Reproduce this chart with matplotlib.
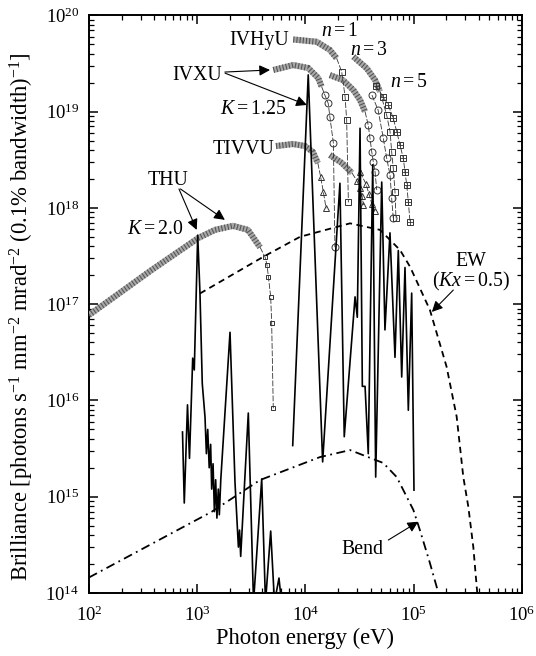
import numpy as np
import matplotlib
matplotlib.use('Agg')
import matplotlib.pyplot as plt
from matplotlib.ticker import LogLocator, NullFormatter

plt.rcParams['font.family'] = ['Liberation Serif', 'DejaVu Serif']
plt.rcParams['mathtext.fontset'] = 'custom'
plt.rcParams['mathtext.rm'] = 'Liberation Serif'
plt.rcParams['mathtext.it'] = 'Liberation Serif:italic'
plt.rcParams['mathtext.bf'] = 'Liberation Serif:bold'

# ---------------- data (photon energy eV, brilliance) ----------------
# measured-like spectrum, low-energy part (THU region)
spec_a_e = [731, 759, 813, 848, 908, 939, 1010, 1060, 1113, 1180, 1215, 1250, 1290, 1330,
            1360, 1400, 1440, 1480, 1520, 1565, 1600, 1650, 2008, 2233, 2400, 2460, 2520,
            2963, 3311, 3940, 4270, 4770, 5170, 5690, 6000]
spec_a_b = [4.7e15, 8.6e14, 9.0e15, 2.5e15, 2.75e16, 2.07e16, 5.2e17, 1.3e17, 1.5e16, 6.7e15,
            2.8e15, 5.0e15, 2.0e15, 3.5e15, 1.2e15, 2.2e15, 7.0e14, 1.5e15, 6.0e14, 1.2e15,
            6.5e14, 1.5e15, 5.1e16, 1.4e15, 3.0e14, 4.5e14, 2.4e14, 7.4e15, 8.0e13, 1.53e15,
            8.0e13, 4.4e14, 8.0e13, 1.43e14, 8.0e13]
# high-energy part
spec_b_e = [7620, 10600, 14400, 20800, 22800, 28700, 30100, 31900, 33500, 35500, 38000,
            41800, 44500, 50600, 54200, 60300, 67100, 72000, 77400, 83000, 89100, 95700, 100500]
spec_b_b = [3.4e15, 2.4e19, 2.3e15, 1.8e18, 4.2e15, 1.19e17, 7.3e16, 6.7e18, 1.4e16, 1.4e16,
            2.8e15, 2.8e18, 1.6e15, 1.85e18, 5.4e16, 5.5e17, 2.8e16, 3.6e17, 1.75e16, 2.4e17,
            7.9e15, 1.3e17, 1.17e15]

# THU tuning curve
thu_e = [100, 379, 1023, 1459, 2140, 2943, 3800]
thu_b = [7.7e16, 2.26e17, 4.86e17, 5.9e17, 6.5e17, 5.9e17, 3.9e17]
thu_tail_e = [3800, 4225, 4410, 4550, 4770, 4870, 5040]
thu_tail_b = [3.9e17, 3.1e17, 2.55e17, 1.9e17, 1.19e17, 6.4e16, 8.3e15]

# IVXU
ivxu1_e = [5050, 7710, 10600, 13100, 14100]
ivxu1_b = [2.7e19, 3.04e19, 2.83e19, 2.23e19, 1.81e19]
ivxu1_tail_e = [14100, 15100, 16200, 16800, 18100, 18700]
ivxu1_tail_b = [1.81e19, 1.48e19, 1.22e19, 8.8e18, 4.7e18, 3.9e17]
ivxu3_e = [16800, 22200, 27700, 31900, 35500]
ivxu3_b = [2.39e19, 2.12e19, 1.67e19, 1.32e19, 9.95e18]
ivxu3_tail_e = [35500, 38000, 39400, 40900, 42300, 43900, 45500]
ivxu3_tail_b = [9.95e18, 7.2e18, 5.3e18, 3.83e18, 3.0e18, 2.37e18, 1.53e18]
ivxu5_tail_e = [41100, 46800, 52300, 56200, 60400, 62500, 64700]
ivxu5_tail_b = [1.48e19, 1.04e19, 5.3e18, 3.29e18, 2.19e18, 1.26e18, 7.8e17]

# IVHyU
ivhyu1_e = [7710, 12700, 16800, 19400]
ivhyu1_b = [5.6e19, 5.3e19, 4.35e19, 3.57e19]
ivhyu1_tail_e = [19400, 21600, 23200, 24000, 24900]
ivhyu1_tail_b = [3.57e19, 2.59e19, 1.43e19, 8.2e18, 1.14e18]
ivhyu3_e = [27700, 36800, 43900, 48800]
ivhyu3_b = [3.71e19, 2.81e19, 2.12e19, 1.61e19]
ivhyu3_tail_e = [48800, 56200, 60400, 62500, 64700, 67100, 68500]
ivhyu3_tail_b = [1.61e19, 9.2e18, 6.2e18, 3.83e18, 2.57e18, 1.47e18, 7.8e17]
ivhyu5_tail_e = [44800, 52000, 58200, 64700, 69600, 74600, 80000, 83000, 86100, 89100, 92300]
ivhyu5_tail_b = [1.84e19, 1.43e19, 1.17e19, 8.5e18, 6.2e18, 4.49e18, 3.29e18, 2.37e18,
                 1.73e18, 1.16e18, 7.2e17]

# TIVVU
tivvu1_e = [5340, 7670, 9900, 11700, 13000]
tivvu1_b = [4.38e18, 4.6e18, 4.38e18, 3.8e18, 2.92e18]
tivvu1_tail_e = [13000, 13800, 14600, 15500]
tivvu1_tail_b = [2.92e18, 2.1e18, 1.47e18, 9.9e17]
tivvu3_e = [16800, 21700, 26900]
tivvu3_b = [3.53e18, 2.92e18, 2.3e18]
tivvu3_tail_e = [26900, 29900, 31900, 33300, 34300]
tivvu3_tail_b = [2.3e18, 1.9e18, 1.61e18, 1.33e18, 1.07e18]
tivvu5_tail_e = [31900, 36200, 38600, 41100, 43900]
tivvu5_tail_b = [2.35e18, 1.77e18, 1.39e18, 1.09e18, 9.3e17]

# EW (Kx = 0.5)
ew_e = [1060, 4075, 8900, 25800, 48800, 74600, 92300, 141000, 201000, 249000, 287000,
        319000, 355000, 386000]
ew_b = [1.29e17, 3.1e17, 5.0e17, 6.9e17, 5.9e17, 3.65e17, 2.45e17, 8.7e16, 2.24e16,
        6.8e15, 1.6e15, 7.9e14, 3.0e14, 1.0e14]

# Bending magnet
bend_e = [100, 1360, 3800, 13600, 25800, 52300, 69600, 99100, 114000, 141000, 169000]
bend_b = [1.45e14, 6.98e14, 1.49e15, 2.58e15, 3.05e15, 2.24e15, 1.6e15, 7.3e14, 4.5e14,
          2.05e14, 1.0e14]

# ---------------- figure ----------------
fig = plt.figure(figsize=(5.36, 6.56), dpi=100)
ax = fig.add_axes([0.1660, 0.0960, 0.8079, 0.8808])
ax.set_xscale('log')
ax.set_yscale('log')
ax.set_xlim(1e2, 1e6)
ax.set_ylim(1e14, 1e20)

# solid spectrum
ax.plot(spec_a_e, spec_a_b, color='k', lw=1.2, zorder=5)
ax.plot(spec_b_e, spec_b_b, color='k', lw=1.2, zorder=5)

# EW and bend
ax.plot(ew_e, ew_b, color='k', lw=1.3, ls=(0, (3.5, 2.5)), zorder=4)
ax.plot(bend_e, bend_b, color='k', lw=1.3, ls=(0, (5, 2.5, 1, 2.5)), zorder=4)


def dense(x, y):
    ax.plot(x, y, color='#a8a8a8', lw=4.4, solid_capstyle='butt', zorder=3)
    ax.plot(x, y, color='#555555', lw=4.4, dashes=(0.18, 0.34),
            dash_capstyle='butt', zorder=3.1)


def tail(x, y, marker, ms=4.5):
    ax.plot(x, y, color='#333333', lw=0.6, ls=(0, (7, 2)), zorder=3.2)
    ax.plot(x[1:], y[1:], ls='none', marker=marker, ms=ms, mfc='none',
            mec='#333333', mew=0.7, zorder=3.3)


dense(thu_e, thu_b)
tail(thu_tail_e, thu_tail_b, 's', 3.5)
dense(ivxu1_e, ivxu1_b)
tail(ivxu1_tail_e, ivxu1_tail_b, 'o', 5)
dense(ivxu3_e, ivxu3_b)
tail(ivxu3_tail_e, ivxu3_tail_b, 'o', 5)
ax.plot(ivxu5_tail_e, ivxu5_tail_b, color='#333333', lw=0.6, ls=(0, (7, 2)),
        marker='o', ms=5, mfc='none', mec='#333333', mew=0.7, zorder=3.3)
dense(ivhyu1_e, ivhyu1_b)
tail(ivhyu1_tail_e, ivhyu1_tail_b, 's', 4)
dense(ivhyu3_e, ivhyu3_b)
tail(ivhyu3_tail_e, ivhyu3_tail_b, 's', 4)
ax.plot(ivhyu5_tail_e, ivhyu5_tail_b, color='#333333', lw=0.6, ls=(0, (7, 2)),
        marker='s', ms=4, mfc='none', mec='#333333', mew=0.7, zorder=3.3)
ax.plot(ivhyu5_tail_e, ivhyu5_tail_b, ls='none', marker='+', ms=5,
        mec='#333333', mew=0.6, zorder=3.3)
dense(tivvu1_e, tivvu1_b)
tail(tivvu1_tail_e, tivvu1_tail_b, '^', 5)
dense(tivvu3_e, tivvu3_b)
tail(tivvu3_tail_e, tivvu3_tail_b, '^', 5)
ax.plot(tivvu5_tail_e, tivvu5_tail_b, color='#333333', lw=0.6, ls=(0, (7, 2)),
        marker='^', ms=5, mfc='none', mec='#333333', mew=0.7, zorder=3.3)

# ---------------- annotations ----------------
fs = 14.3
arw = dict(arrowstyle='-|>', color='k', lw=0.8, mutation_scale=16,
           shrinkA=0, shrinkB=0)

ax.text(7000, 5.5e19, 'IVHyU', fontsize=fs, ha='right', va='center', zorder=6)
ax.text(20800, 6.7e19, r'$n = 1$', fontsize=fs, ha='center', va='center', zorder=6)
ax.text(38600, 4.35e19, r'$n = 3$', fontsize=fs, ha='center', va='center', zorder=6)
ax.text(60400, 2.0e19, r'$n = 5$', fontsize=fs, ha='left', va='center', zorder=6)

ax.text(1690, 2.39e19, 'IVXU', fontsize=fs, ha='right', va='center', zorder=6)
ax.annotate('', xy=(4700, 2.7e19), xytext=(1800, 2.57e19), arrowprops=arw)
ax.annotate('', xy=(10300, 1.17e19), xytext=(1810, 2.5e19), arrowprops=arw)
ax.text(3270, 1.04e19, r'$K = 1.25$', fontsize=fs, ha='center', va='center', zorder=6)

ax.text(5120, 4.0e18, 'TIVVU', fontsize=fs, ha='right', va='center', zorder=6)

ax.text(537, 1.94e18, 'THU', fontsize=fs, ha='center', va='center', zorder=6)
ax.annotate('', xy=(988, 5.9e17), xytext=(678, 1.57e18), arrowprops=arw)
ax.annotate('', xy=(1800, 7.5e17), xytext=(700, 1.57e18), arrowprops=arw)
ax.text(407, 5.9e17, r'$K = 2.0$', fontsize=fs, ha='center', va='center', zorder=6)

ax.text(338000, 2.75e17, 'EW', fontsize=fs, ha='center', va='center', zorder=6)
ax.text(338000, 1.71e17, r'$(Kx = 0.5)$', fontsize=fs, ha='center', va='center', zorder=6)
ax.annotate('', xy=(147000, 8.3e16), xytext=(232000, 1.4e17), arrowprops=arw)

ax.text(21700, 2.8e14, 'Bend', fontsize=fs, ha='left', va='center', zorder=6)
ax.annotate('', xy=(110000, 5.5e14), xytext=(58200, 3.55e14), arrowprops=arw)

# ---------------- axes styling ----------------
ax.xaxis.set_major_locator(LogLocator(base=10, numticks=20))
ax.yaxis.set_major_locator(LogLocator(base=10, numticks=20))
ax.xaxis.set_minor_locator(LogLocator(base=10, subs=np.arange(2, 10), numticks=100))
ax.yaxis.set_minor_locator(LogLocator(base=10, subs=np.arange(2, 10), numticks=100))
ax.xaxis.set_minor_formatter(NullFormatter())
ax.yaxis.set_minor_formatter(NullFormatter())
ax.tick_params(which='both', direction='in', top=True, right=True, labelsize=13.5)
ax.tick_params(which='major', length=6.5, width=1.1)
ax.tick_params(which='minor', length=3.5, width=0.9)
ax.tick_params(axis='x', which='major', pad=9)
ax.tick_params(axis='y', which='major', pad=7)
for s in ax.spines.values():
    s.set_linewidth(1.4)

ax.set_xlabel('Photon energy (eV)', fontsize=16.3)
ax.set_ylabel(r'Brilliance [photons s$^{-1}$ mm$^{-2}$ mrad$^{-2}$ (0.1% bandwidth)$^{-1}$]',
              fontsize=16.3)
ax.xaxis.set_label_coords(0.5, -0.06)
ax.yaxis.set_label_coords(-0.122, 0.478)

fig.savefig('out.png', dpi=100)
